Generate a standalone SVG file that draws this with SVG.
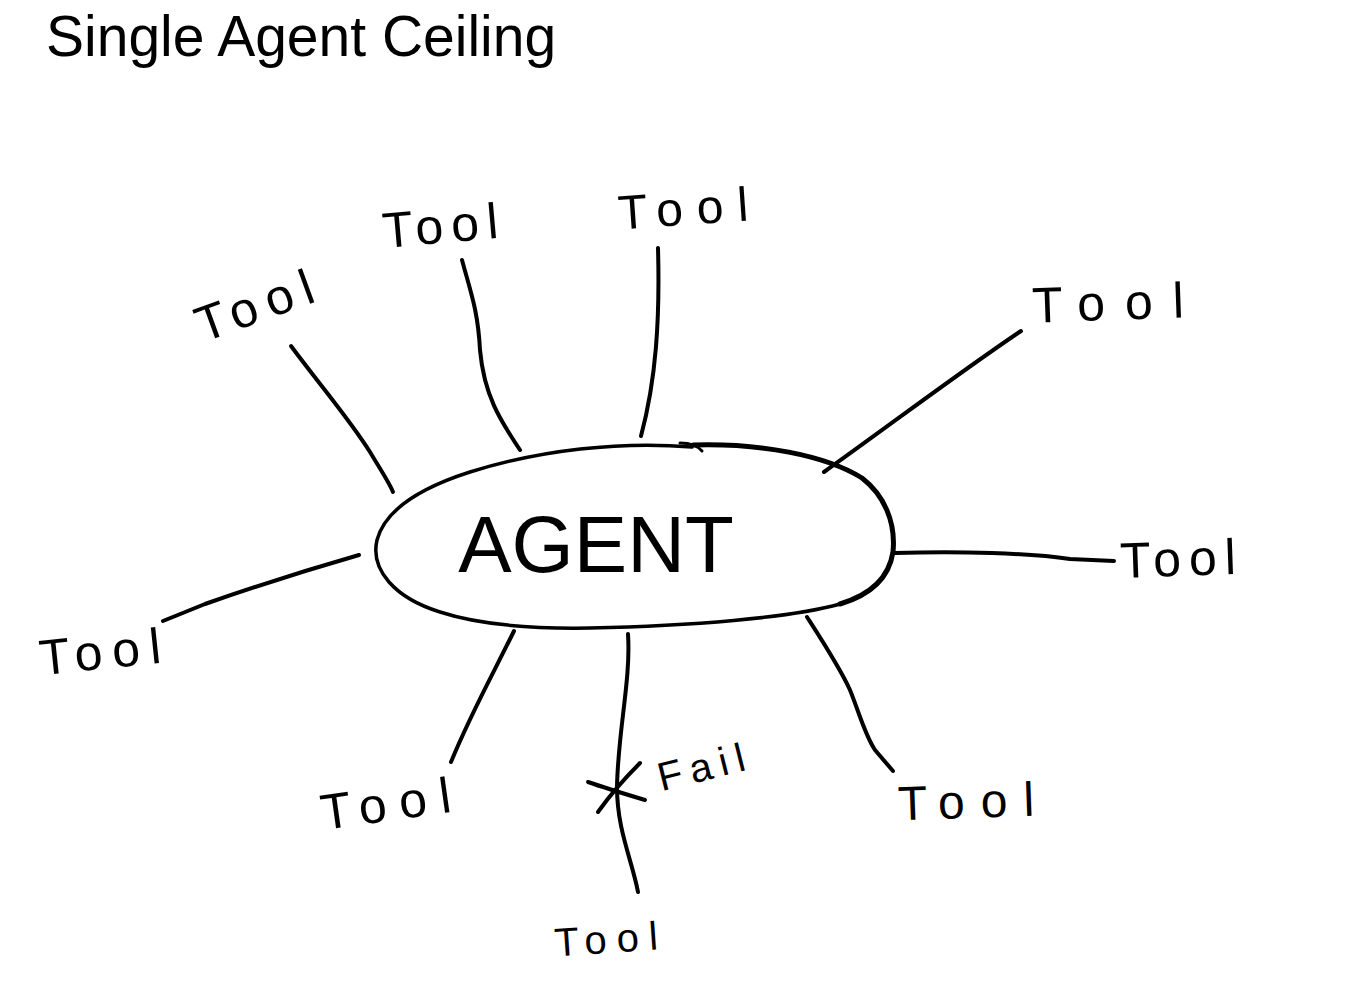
<svg xmlns="http://www.w3.org/2000/svg" width="1353" height="1000" viewBox="0 0 1353 1000">
<style>
.bg{fill:#ffffff}
.title{font-family:"Liberation Sans",Arial,sans-serif;font-size:57px;fill:#000}
.pen{fill:none;stroke:#000;stroke-linecap:round;stroke-linejoin:round}
.conn{stroke-width:4}
.lbl{font-family:"Liberation Sans",Arial,sans-serif;fill:#000;text-anchor:middle}
.tool{font-size:50px}
</style>
<rect class="bg" x="0" y="0" width="1353" height="1000"/>
<text class="title" x="46" y="56">Single Agent Ceiling</text>

<g id="connectors">
  <path class="pen conn" d="M291,346 C320,385 350,420 370,452 C382,472 390,484 393,492"/>
  <path class="pen conn" d="M462,260 C470,290 478,310 480,350 C484,395 500,420 520,450"/>
  <path class="pen conn" d="M658,248 C660,320 656,380 641,436"/>
  <path class="pen conn" d="M1021,331 C960,372 890,425 824,472"/>
  <path class="pen conn" d="M895,553 C960,551 1030,553 1070,559 L1114,561"/>
  <path class="pen conn" d="M359,555 C300,572 245,590 205,604 L163,621"/>
  <path class="pen conn" d="M514,631 C495,670 470,715 451,762"/>
  <path class="pen conn" d="M628,634 C631,680 618,730 617,787 C617,830 632,860 638,892"/>
  <path class="pen conn" d="M807,617 C825,645 840,668 850,690 C860,715 865,735 875,750 L893,771"/>
</g>

<g id="agent">
  <path class="pen" stroke-width="3.5" d="M692,447 C620,441 540,450 470,472 C420,488 385,510 377,540 C370,570 395,598 440,612 C480,625 530,629 590,628 C690,626 790,618 840,604 C870,595 889,578 893,552"/>
  <path class="pen" stroke-width="5" d="M693,445 C760,443 825,455 862,478 C884,495 896,522 893,552 C889,578 870,595 840,604"/>
  <path class="pen" stroke-width="3" d="M680,443 C690,443 698,446 702,451"/>
  <text class="lbl" x="596" y="572" font-size="80">AGENT</text>
</g>

<g id="tool-1"><text class="lbl tool" transform="translate(254,305) rotate(-20)" x="5" y="18" letter-spacing="10">Tool</text></g>
<g id="tool-2"><text class="lbl tool" transform="translate(440,225) rotate(-5)" x="4" y="18" letter-spacing="8">Tool</text></g>
<g id="tool-3"><text class="lbl" font-size="48" transform="translate(683,208) rotate(-4)" x="7" y="17" letter-spacing="14">Tool</text></g>
<g id="tool-4"><text class="lbl tool" transform="translate(1108,302) rotate(-2)" x="10" y="18" letter-spacing="20">Tool</text></g>
<g id="tool-5"><text class="lbl tool" transform="translate(1178,558) rotate(-2)" x="4" y="18" letter-spacing="8">Tool</text></g>
<g id="tool-6"><text class="lbl tool" transform="translate(100,651) rotate(-6)" x="5" y="18" letter-spacing="10">Tool</text></g>
<g id="tool-7"><text class="lbl tool" transform="translate(386,803) rotate(-8)" x="6" y="18" letter-spacing="13">Tool</text></g>
<g id="tool-8"><text class="lbl" font-size="40" transform="translate(606,939) rotate(-4)" x="5" y="14" letter-spacing="10">Tool</text></g>
<g id="tool-9"><text class="lbl" font-size="48" transform="translate(966,801) rotate(-2)" x="8" y="17" letter-spacing="16">Tool</text></g>

<g id="fail">
  <path class="pen conn" d="M588,782 C605,788 625,794 645,800"/>
  <path class="pen conn" d="M640,763 C625,778 610,795 598,812"/>
  <text class="lbl" font-size="40" transform="translate(701,767) rotate(-14)" x="4" y="14" letter-spacing="8">Fail</text>
</g>
</svg>
